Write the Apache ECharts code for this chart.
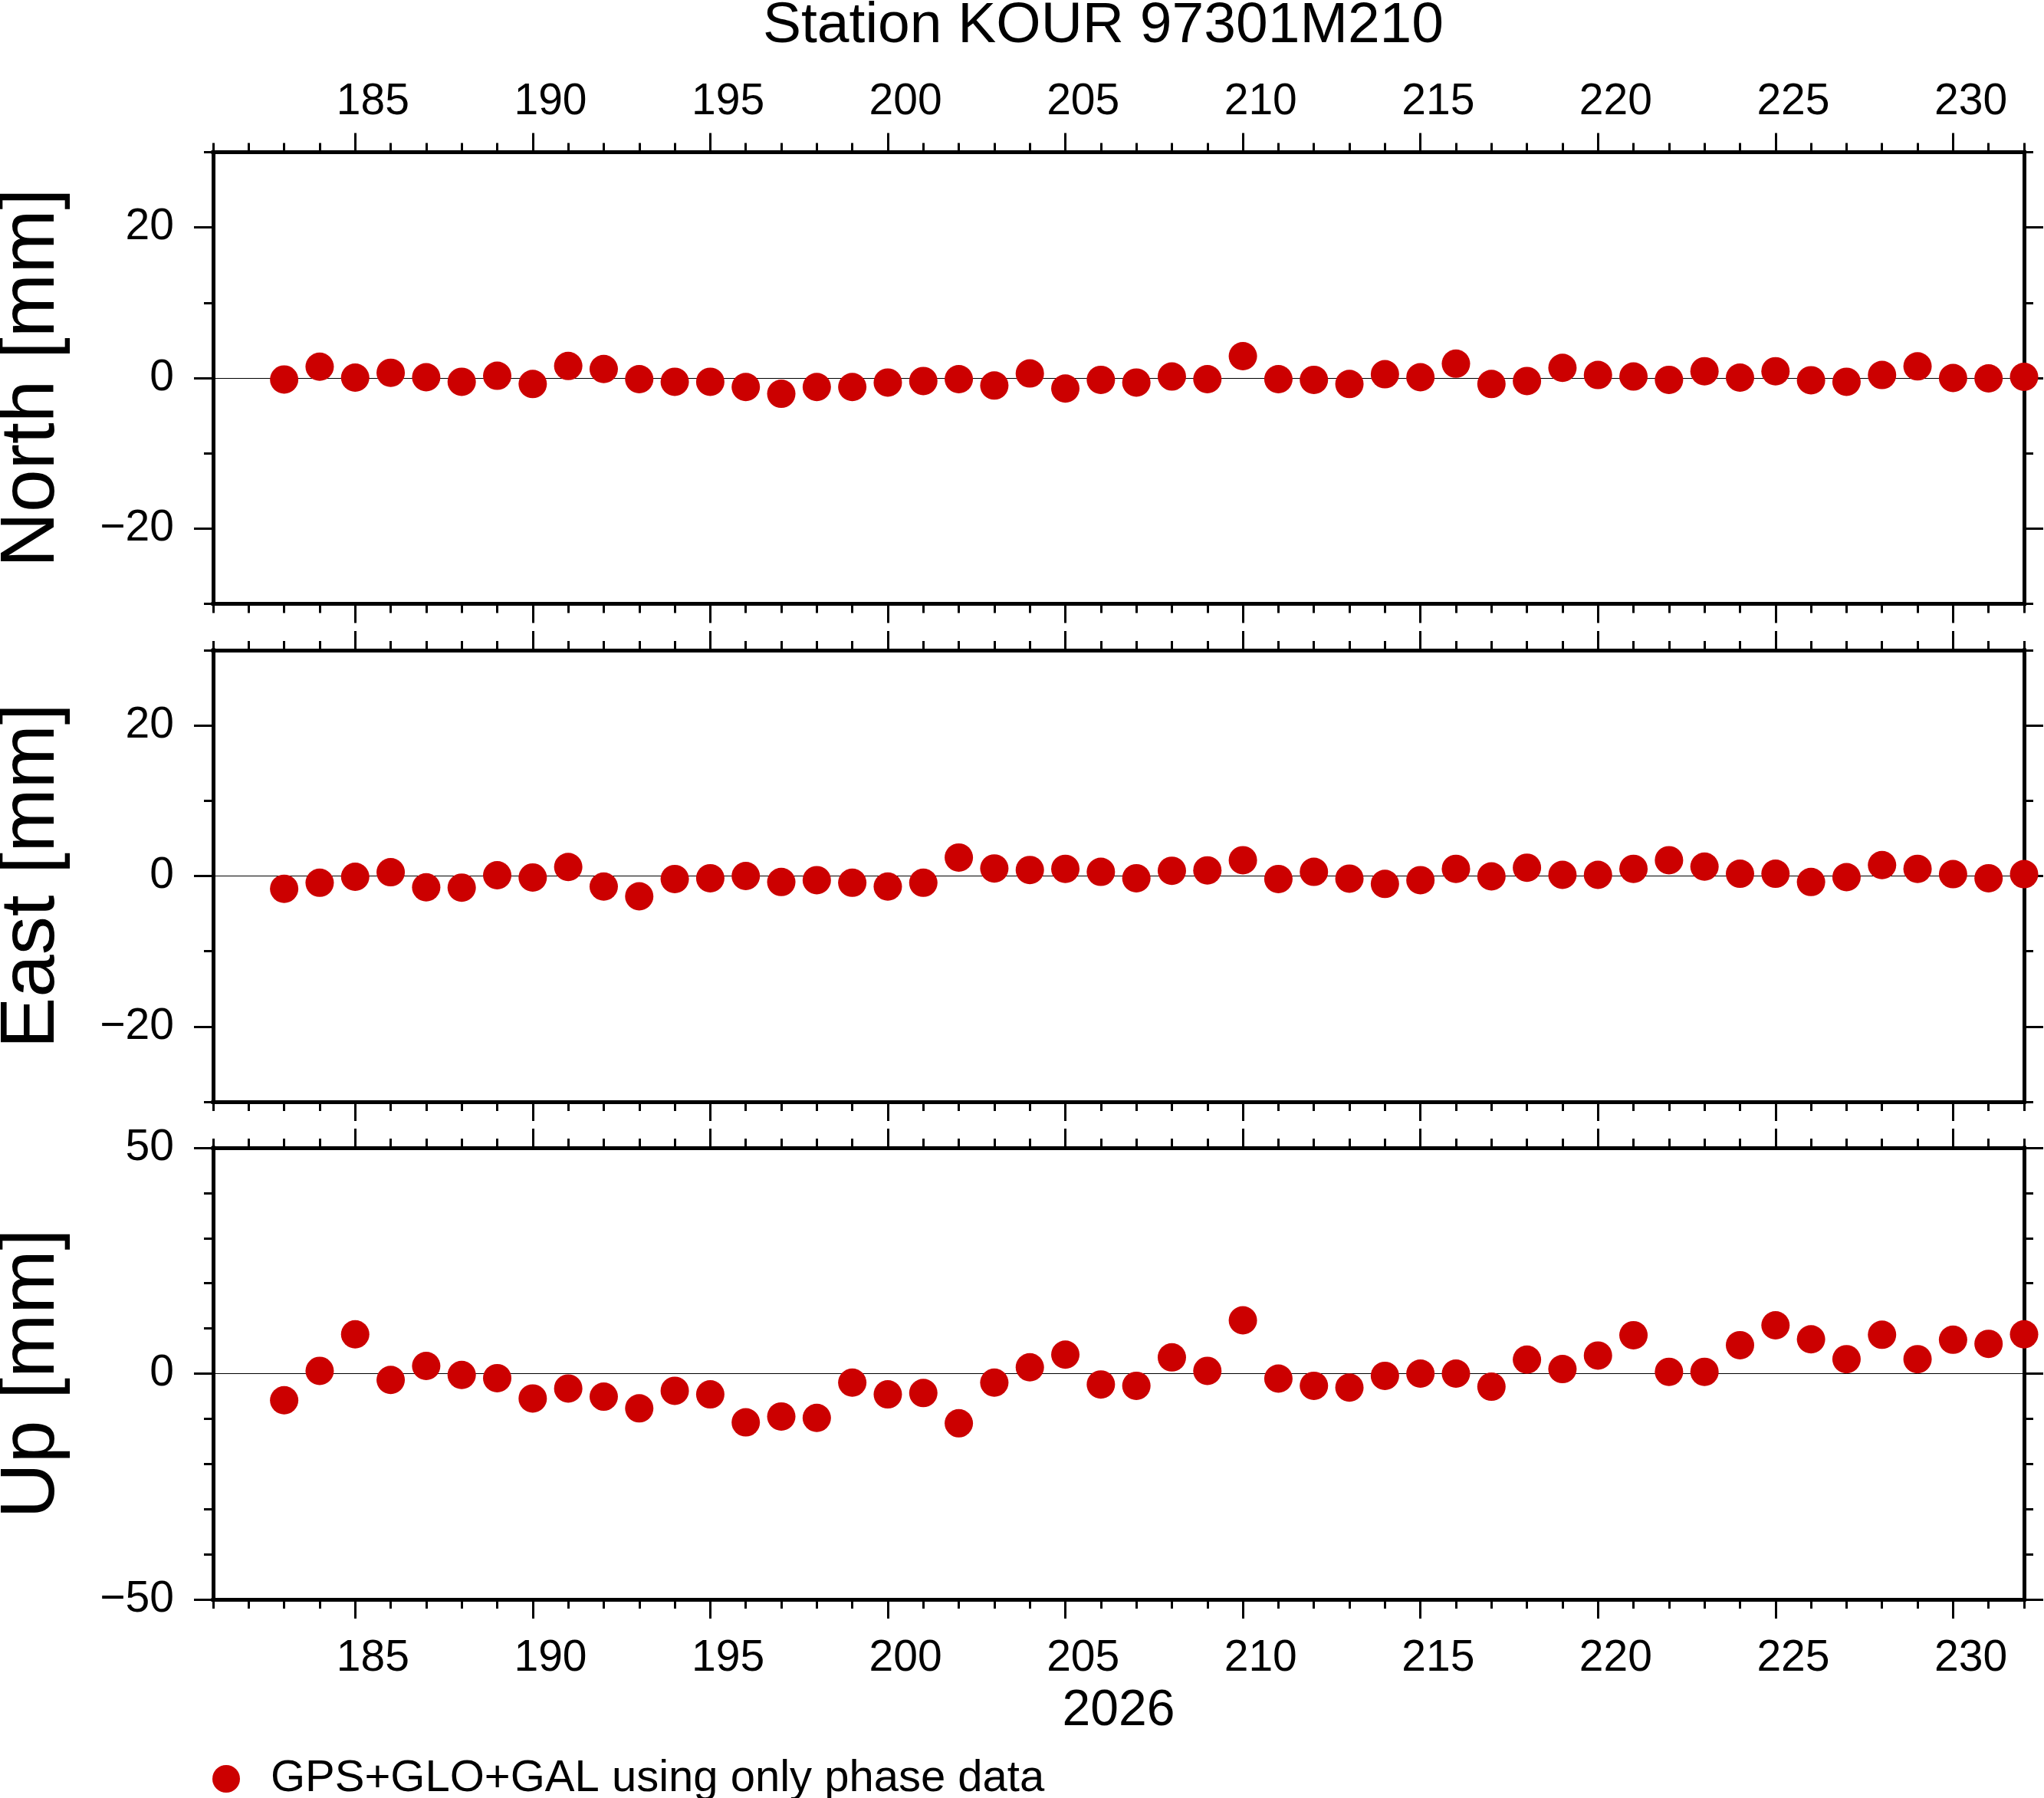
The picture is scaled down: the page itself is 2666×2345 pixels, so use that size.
<!DOCTYPE html>
<html>
<head>
<meta charset="utf-8">
<script src="https://cdn.jsdelivr.net/npm/echarts@6/dist/echarts.min.js"></script>
<style>
html,body{margin:0;padding:0;background:#fff;}
#chart{width:2666px;height:2345px;}
</style>
</head>
<body>
<div id="chart"></div>
<script>
// ---- data ----
const days = [183,184,185,186,187,188,189,190,191,192,193,194,195,196,197,198,199,200,201,202,203,204,205,206,207,208,209,210,211,212,213,214,215,216,217,218,219,220,221,222,223,224,225,226,227,228,229,230,231,232];
const north = [-0.2,1.5,0.05,0.7,0.1,-0.5,0.3,-0.8,1.6,1.2,-0.15,-0.5,-0.5,-1.2,-2.1,-1.2,-1.2,-0.6,-0.4,-0.15,-1.0,0.6,-1.4,-0.25,-0.6,0.2,-0.15,2.9,-0.15,-0.25,-0.8,0.5,0.1,1.9,-0.8,-0.4,1.35,0.4,0.2,-0.25,0.9,0.05,0.9,-0.3,-0.5,0.4,1.55,0,-0.05,0.15];
const east = [-1.7,-0.9,-0.1,0.5,-1.5,-1.55,0.1,-0.2,1.2,-1.4,-2.7,-0.4,-0.3,0,-0.8,-0.55,-0.9,-1.4,-0.9,2.45,1.0,0.8,0.95,0.55,-0.3,0.7,0.75,2.1,-0.4,0.55,-0.35,-1.05,-0.55,0.95,-0.05,1.1,0.15,0.15,0.95,2.1,1.25,0.3,0.3,-0.8,-0.15,1.45,0.95,0.25,-0.3,0.25];
const up = [-5.9,0.6,8.7,-1.4,1.7,-0.3,-1.0,-5.5,-3.3,-5.1,-7.7,-3.8,-4.6,-10.8,-9.5,-9.8,-2.0,-4.6,-4.3,-11.0,-2.0,1.4,4.2,-2.4,-2.7,3.6,0.6,11.8,-1.1,-2.7,-3.1,-0.5,0,0,-2.9,3.1,1.0,4.0,8.5,0.4,0.4,6.3,10.7,7.6,3.2,8.6,3.2,7.5,6.6,8.7];
const xMajorTicks = [185,190,195,200,205,210,215,220,225,230];
const xLabelPositions = [185.5,190.5,195.5,200.5,205.5,210.5,215.5,220.5,225.5,230.5];
const xRange = [181,232];
const nsTicks = [-20,0,20];
const upTicks = [-50,0,50];
const panelNames = ['North [mm]','East [mm]','Up [mm]'];
const panelRanges = [[-30,30],[-30,30],[-50,50]];
const panelMajor = [nsTicks,nsTicks,upTicks];
const panelValues = [north,east,up];
const titleText = 'Station KOUR 97301M210';
const yearText = '2026';
const legendText = 'GPS+GLO+GAL using only phase data';

// ---- styling ----
const FONT = 'Liberation Sans';
const RED = '#CC0000';
const gridTops = [198.5, 848, 1497];
const gridH = 589;
const frame = {show:true,onZero:false,lineStyle:{color:'#000',width:5,cap:'square'}};
const tickStyle = {color:'#000',width:3};
const labelStyle = {fontFamily:FONT,fontSize:57,color:'#000',lineHeight:57};

const chart = echarts.init(document.getElementById('chart'), null, {renderer:'canvas'});

const grids = [], xAxes = [], yAxes = [], series = [];
for (let g = 0; g < 3; g++) {
  grids.push({left:278, right:26, top:gridTops[g], height:gridH, outerBoundsMode:'none', containLabel:false});
  const xb = {gridIndex:g, type:'value', min:xRange[0], max:xRange[1], splitLine:{show:false}, axisPointer:{show:false}};
  // bottom major
  xAxes.push(Object.assign({}, xb, {position:'bottom', axisLine:frame,
    axisTick:{show:true, customValues:xMajorTicks, length:25, lineStyle:tickStyle},
    axisLabel:Object.assign({show:g===2, customValues:xLabelPositions, margin:49,
      formatter:v=>String(Math.floor(v))}, labelStyle),
    name: g===2 ? yearText : '', nameLocation:'middle', nameGap:113, nameMoveOverlap:false,
    nameTextStyle:{fontFamily:FONT,fontSize:66,color:'#000',lineHeight:66}}));
  // bottom minor
  xAxes.push(Object.assign({}, xb, {position:'bottom', interval:1, axisLine:{show:false,onZero:false},
    axisTick:{show:true,length:12,lineStyle:tickStyle}, axisLabel:{show:false}}));
  // top major
  xAxes.push(Object.assign({}, xb, {position:'top', axisLine:frame,
    axisTick:{show:true, customValues:xMajorTicks, length:25, lineStyle:tickStyle},
    axisLabel:Object.assign({show:g===0, customValues:xLabelPositions, margin:37,
      formatter:v=>String(Math.floor(v))}, labelStyle)}));
  // top minor
  xAxes.push(Object.assign({}, xb, {position:'top', interval:1, axisLine:{show:false,onZero:false},
    axisTick:{show:true,length:12,lineStyle:tickStyle}, axisLabel:{show:false}}));

  const yb = {gridIndex:g, type:'value', min:panelRanges[g][0], max:panelRanges[g][1], splitLine:{show:false}, axisPointer:{show:false}};
  // left major
  yAxes.push(Object.assign({}, yb, {position:'left', axisLine:frame,
    axisTick:{show:true, customValues:panelMajor[g], length:25, lineStyle:tickStyle},
    axisLabel:Object.assign({show:true, customValues:panelMajor[g], margin:51, padding:[10,0,0,0],
      formatter:v=>String(v).replace('-','\u2212')}, labelStyle),
    name:panelNames[g], nameLocation:'middle', nameRotate:90, nameGap:186, nameMoveOverlap:false,
    nameTextStyle:{fontFamily:FONT,fontSize:100,color:'#000',lineHeight:100}}));
  // left minor
  yAxes.push(Object.assign({}, yb, {position:'left', interval:10, axisLine:{show:false,onZero:false},
    axisTick:{show:true,length:12,lineStyle:tickStyle}, axisLabel:{show:false}}));
  // right major
  yAxes.push(Object.assign({}, yb, {position:'right', axisLine:frame,
    axisTick:{show:true, customValues:panelMajor[g], length:25, lineStyle:tickStyle}, axisLabel:{show:false}}));
  // right minor
  yAxes.push(Object.assign({}, yb, {position:'right', interval:10, axisLine:{show:false,onZero:false},
    axisTick:{show:true,length:12,lineStyle:tickStyle}, axisLabel:{show:false}}));

  series.push({
    type:'scatter', name:legendText, xAxisIndex:g*4, yAxisIndex:g*4,
    data: days.map((d,i)=>[d, panelValues[g][i]]),
    symbol:'circle', symbolSize:37, clip:false, z:10,
    itemStyle:{color:RED, opacity:1},
    markLine:{silent:true, symbol:['none','none'], z:1, animation:false,
      label:{show:false}, lineStyle:{color:'#000',width:1.2,type:'solid'},
      emphasis:{disabled:true}, data:[{yAxis:0}]}
  });
}

chart.setOption({
  animation:false,
  backgroundColor:'#fff',
  title:{text:titleText, left:1439, textAlign:'center', top:-3, padding:0,
    textStyle:{fontFamily:FONT,fontSize:75,fontWeight:'normal',color:'#000',lineHeight:75}},
  legend:{show:true, left:277, top:2291, padding:0, icon:'circle', itemWidth:36, itemHeight:36,
    data:[legendText], selectedMode:false,
    textStyle:{fontFamily:FONT,fontSize:58,color:'#000',lineHeight:36,padding:[0,0,0,35]}},
  grid:grids, xAxis:xAxes, yAxis:yAxes, series:series
});
</script>
</body>
</html>
